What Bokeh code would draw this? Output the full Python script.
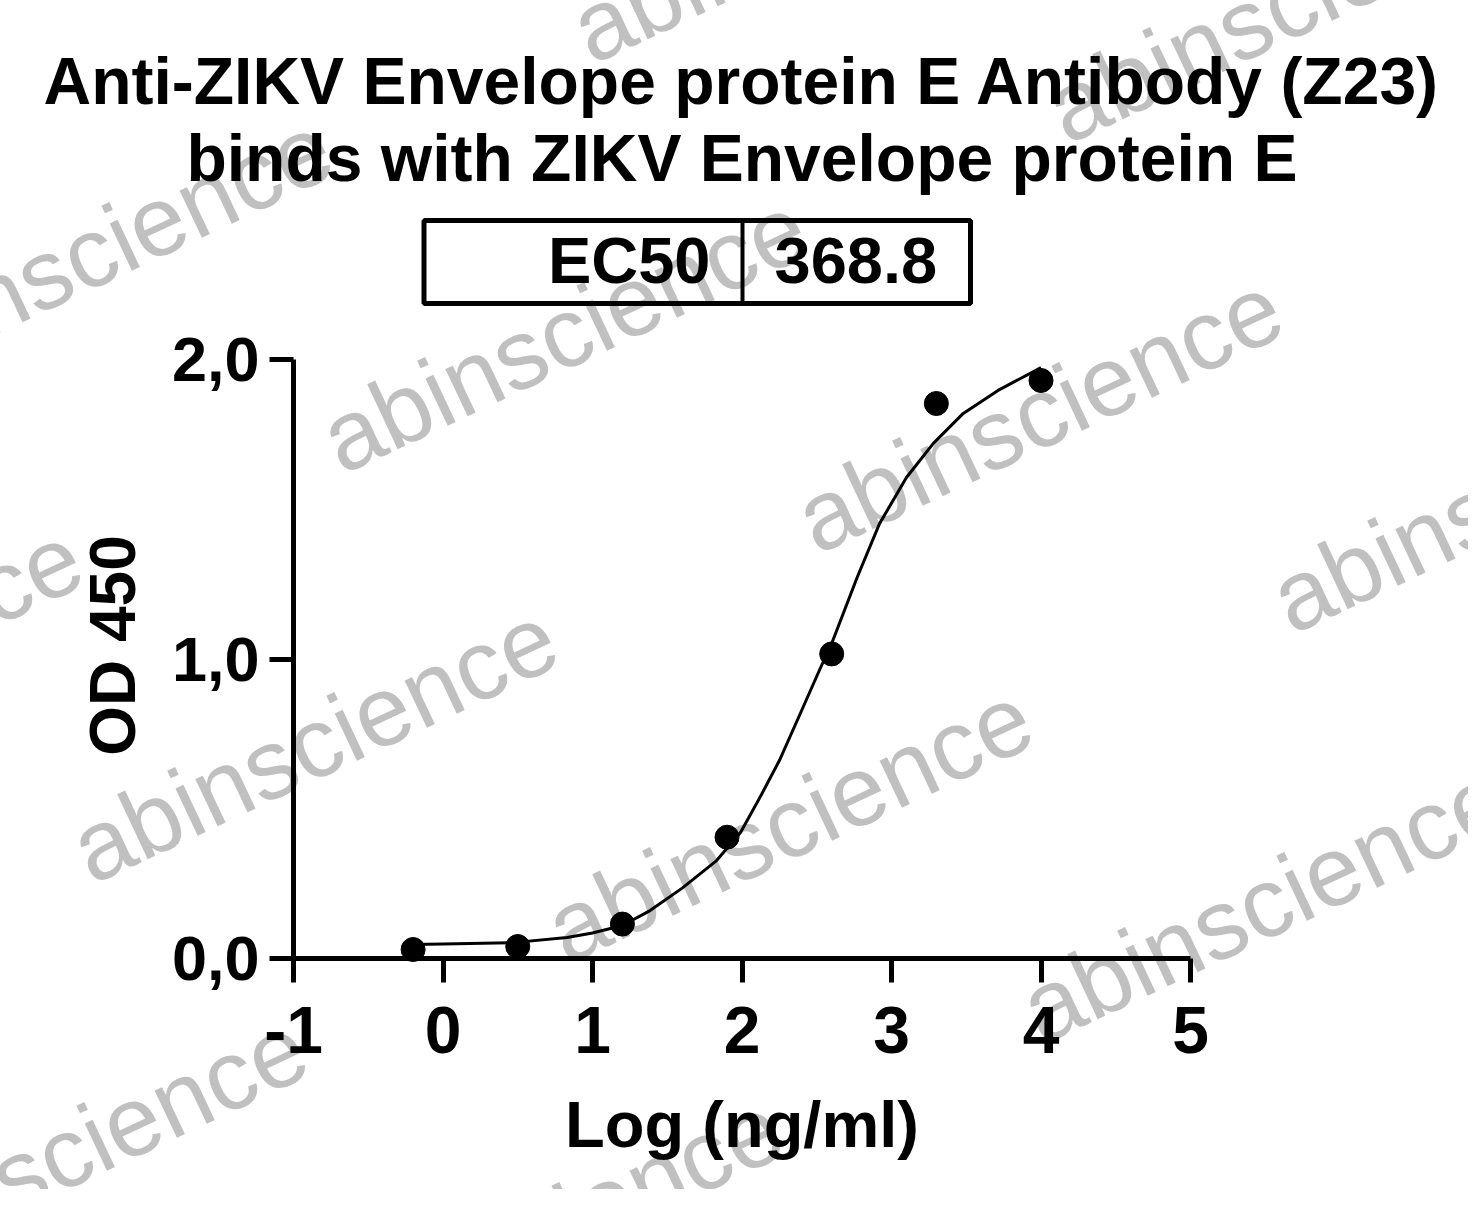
import math
from bokeh.plotting import figure
from bokeh.models import CustomJSTickFormatter, FixedTicker, Range1d
from bokeh.core.properties import value
from bokeh.embed import file_html
from bokeh.resources import INLINE

# ---------------- data ----------------
title_lines = ["Anti-ZIKV Envelope protein E Antibody (Z23)",
               "binds with ZIKV Envelope protein E"]
ec50_label = "EC50"
ec50_value = "368.8"
x_label = "Log (ng/ml)"
y_label = "OD 450"
x_ticks = [-1, 0, 1, 2, 3, 4, 5]
y_ticks = [0, 1, 2]

# measured points
log_conc = [-0.2, 0.5, 1.2, 1.9, 2.6, 3.3, 4.0]
od450 = [0.03, 0.04, 0.115, 0.405, 1.017, 1.853, 1.93]

# fitted curve
fit_x = [-0.2, 0.0, 0.47, 0.83, 1.0, 1.2, 1.385, 1.6, 1.83, 1.99, 2.12,
         2.25, 2.39, 2.52, 2.6, 2.77, 2.92, 3.1, 3.28, 3.48, 3.71, 4.0]
fit_y = [0.047, 0.048, 0.053, 0.070, 0.085, 0.11, 0.16, 0.235, 0.327, 0.421,
         0.538, 0.661, 0.818, 0.965, 1.052, 1.272, 1.452, 1.606, 1.72, 1.82,
         1.896, 1.973]

watermark = "abinscience"

# ---------------- layout ----------------
FONT = "Liberation Sans"
W, H = 1468, 1189
L, T = 293, 359
FW, FH = 897, 599
R = W - L - FW
B = H - T - FH
X0, X1 = -1, 5
Y0, Y1 = 0, 2
SHIFT = 0.36  # em offset of rendered alphabetic baseline


def dx(px):
    return X0 + (px - L) * (X1 - X0) / FW


def dy(py):
    return Y0 + (T + FH - py) * (Y1 - Y0) / FH


p = figure(width=W, height=H, output_backend="svg", toolbar_location=None,
           x_range=Range1d(X0, X1), y_range=Range1d(Y0, Y1),
           min_border_left=L, min_border_right=R,
           min_border_top=T, min_border_bottom=B)
p.outline_line_color = None
p.grid.visible = False
p.background_fill_color = "white"
p.border_fill_color = "white"

# watermarks (decoration)
WM_SIZE = 99
WM_ANG = 0.44
wsh = SHIFT * WM_SIZE
wx, wy = [], []
for j in range(-1, 3):
    for i in range(-2, 3):
        px = 92 + i * 475 + j * 250
        py = 886 + i * 80 - j * 410
        if px + 480 < 0 or px > 1484 or py < 0 or py - 260 > 1205:
            continue
        wx.append(dx(px - wsh * math.sin(WM_ANG)))
        wy.append(dy(py - wsh * math.cos(WM_ANG)))
p.text(x=wx, y=wy, text=[watermark] * len(wx), angle=WM_ANG,
       text_font=value(FONT), text_font_size=f"{WM_SIZE}px", text_color="#c0c0c0",
       text_baseline="alphabetic", text_align="left", level="overlay")

# axes
for ax in (p.xaxis, p.yaxis):
    ax.axis_line_width = 5
    ax.axis_line_color = "black"
    ax.major_tick_line_width = 5
    ax.major_tick_line_color = "black"
    ax.major_tick_out = 24
    ax.major_tick_in = 0
    ax.minor_tick_out = 0
    ax.minor_tick_in = 0
    ax.major_label_text_font = FONT
    ax.major_label_text_font_style = "bold"
    ax.major_label_text_color = "black"
    ax.level = "overlay"

p.xaxis.major_label_text_font_size = "66px"
p.yaxis.major_label_text_font_size = "63px"
p.xaxis.ticker = FixedTicker(ticks=x_ticks)
p.yaxis.ticker = FixedTicker(ticks=y_ticks)
p.xaxis.formatter = CustomJSTickFormatter(code="return tick.toFixed(0);")
p.yaxis.formatter = CustomJSTickFormatter(code="return tick.toFixed(1).replace('.', ',');")
p.xaxis.major_label_standoff = 24
p.yaxis.major_label_standoff = 10


def txt(px, py, s, size, align="center", rotated=False):
    sh = SHIFT * size
    if rotated:
        ax_, ay_, ang = px - sh, py, math.pi / 2
    else:
        ax_, ay_, ang = px, py - sh, 0.0
    p.text(x=[dx(ax_)], y=[dy(ay_)], text=[s], angle=ang,
           text_font=value(FONT), text_font_style="bold", text_font_size=f"{size}px",
           text_align=align, text_baseline="alphabetic", text_color="black",
           level="overlay")


# axis titles
txt(136, 645, y_label, 64, rotated=True)
txt(741.5, 1147, x_label, 65)

# title
txt(741.5, 104, title_lines[0], 66)
txt(741.5, 181, title_lines[1], 66)

# EC50 box
p.quad(left=[dx(423.5)], right=[dx(970)], bottom=[dy(303)], top=[dy(220)],
       fill_color=None, line_color="black", line_width=5, level="overlay")
p.segment(x0=[dx(742)], y0=[dy(303)], x1=[dx(742)], y1=[dy(220)],
          line_color="black", line_width=4, level="overlay")
txt(710, 283, ec50_label, 65, align="right")
txt(774, 283, ec50_value, 65, align="left")

# curve and points
p.line(fit_x, fit_y, line_color="black", line_width=3, line_join="round", level="overlay")
p.scatter(log_conc, od450, size=24, marker="circle", fill_color="black",
          line_color="black", level="overlay")

open("out.html", "w").write(file_html(p, INLINE))
